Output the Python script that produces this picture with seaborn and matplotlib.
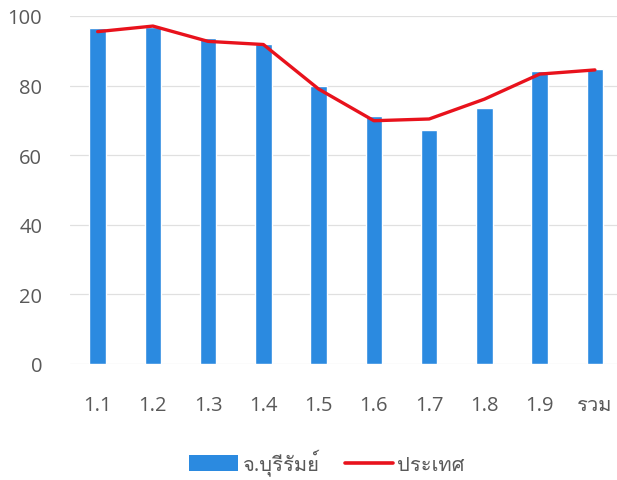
import matplotlib
matplotlib.use('Agg')
import numpy as np
import matplotlib.pyplot as plt
import seaborn as sns
from matplotlib import font_manager
from matplotlib.patches import Patch
from matplotlib.lines import Line2D
from fontTools.ttLib import TTFont


# data
categories = ['1.1', '1.2', '1.3', '1.4', '1.5', '1.6', '1.7', '1.8', '1.9', 'รวม']
buriram = [96.5, 96.8, 93.7, 92.0, 80.0, 71.2, 67.2, 73.6, 84.3, 84.8]
country = [95.5, 97.1, 92.7, 91.8, 79.0, 69.9, 70.4, 76.1, 83.3, 84.5]
series_names = ['จ.บุรีรัมย์', 'ประเทศ']


# find an installed font that has Thai glyphs
def find_thai_font():
    for f in font_manager.fontManager.ttflist:
        try:
            tt = TTFont(f.fname, fontNumber=0, lazy=True)
            cmap = tt.getBestCmap()
            if cmap and ord('จ') in cmap and ord('ั') in cmap:
                return f.name
        except Exception:
            continue
    return 'DejaVu Sans'


sns.set_style('white')
thai = find_thai_font()
plt.rcParams['font.family'] = ['Open Sans', thai, 'DejaVu Sans']

text_grey = '#595959'
bar_blue = '#2b8ae0'
line_red = '#e8121c'

fig = plt.figure(figsize=(6.17, 4.81), dpi=100)
ax = fig.add_axes([0.1135, 0.2412, 0.8865, 0.7235])

sns.barplot(x=categories, y=buriram, color=bar_blue, width=0.3, saturation=1, ax=ax)
sns.lineplot(x=np.arange(len(categories)), y=country, color=line_red, linewidth=2.4, ax=ax)

ax.set_ylim(0, 100)
ax.set_xlim(-0.5, 9.4)
ax.set_yticks([0, 20, 40, 60, 80, 100])
ax.grid(axis='y', color='#e0e0e0', linewidth=0.9)
ax.set_axisbelow(True)
for s in ax.spines.values():
    s.set_visible(False)
ax.tick_params(axis='both', length=0, labelsize=14.5, colors=text_grey)
ax.tick_params(axis='x', pad=22)
ax.tick_params(axis='y', pad=20)
ax.set_xlabel('')
ax.set_ylabel('')

handles = [Patch(facecolor=bar_blue, edgecolor='none'),
           Line2D([0], [0], color=line_red, linewidth=2.6)]
leg = fig.legend(handles, series_names, loc='center', bbox_to_anchor=(0.53, 0.037),
                 ncol=2, frameon=False, fontsize=14.5, handlelength=2.4,
                 handleheight=0.8, handletextpad=0.2, columnspacing=1.3)
for t in leg.get_texts():
    t.set_color(text_grey)

fig.savefig('out.png', dpi=100)
